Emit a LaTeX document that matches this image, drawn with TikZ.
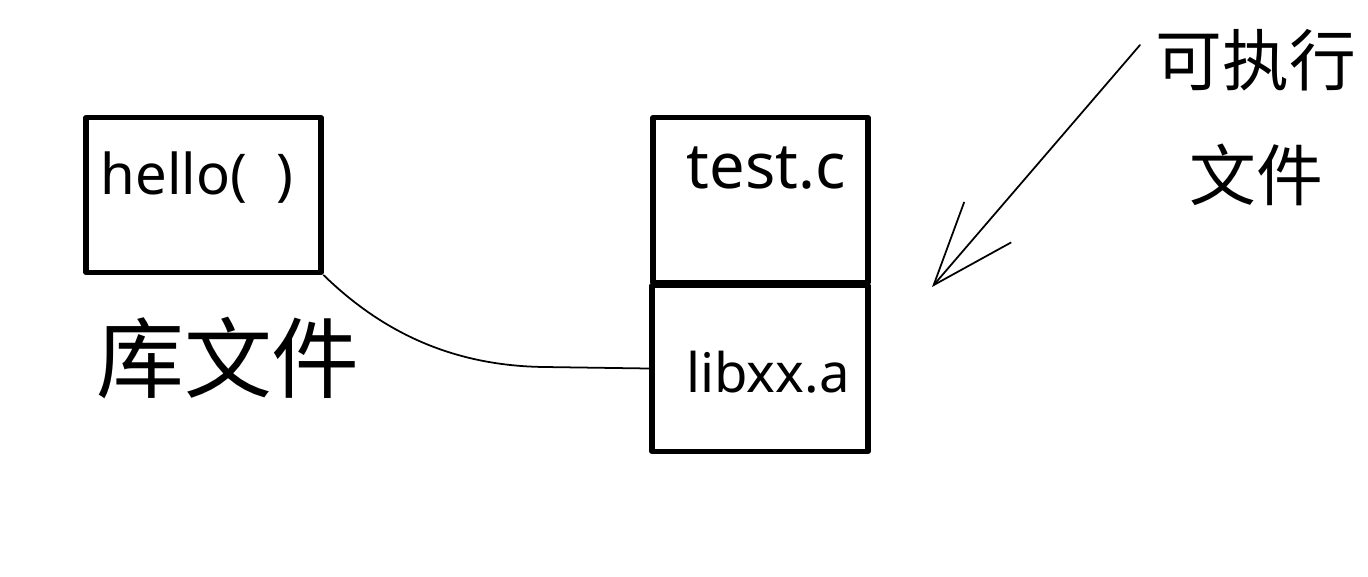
\documentclass[tikz,border=0pt]{standalone}
\usepackage{fontspec}
\setmainfont{Noto Sans}
\newfontfamily\cjk{Noto Sans CJK SC}
\usetikzlibrary{arrows.meta}
\begin{document}
\begin{tikzpicture}[x=0.02cm, y=-0.02cm, line join=round, line cap=round, line width=1pt]
            \tikzset{box/.style={draw, line width=3pt, inner sep=0pt},
                     lbl/.style={inner sep=0pt},
                     barb/.style={-{Straight Barb[length=1.66cm, width=1.24cm]}}}
            \useasboundingbox (0,0) rectangle (1368,576);
            % boxes
            \node[box, minimum width=4.7cm, minimum height=3.1cm] (hellobox) at (203.5,195) {};
            \node[box, minimum width=4.3cm, minimum height=3.3cm] (testbox) at (760.5,200) {};
            \node[box, minimum width=4.32cm, minimum height=3.32cm] (libbox) at (760,368.5) {};
            % labels
            \node[lbl, font=\fontsize{32}{38}\selectfont] (hello) at (197,178) {hello(\ \ )};
            \node[lbl, font=\fontsize{36}{42}\selectfont] (testc) at (766,168) {test.c};
            \node[lbl, font=\fontsize{31}{38}\selectfont] (libxx) at (768,372) {libxx.a};
            \node[lbl, font=\cjk\fontsize{50}{56}\selectfont] (libfile) at (228,358) {库文件};
            \node[lbl, anchor=north west, align=center, font=\cjk\fontsize{38}{66}\selectfont] (exec) at (1155,28) {可执行\\文件};
            \coordinate (tip) at (932,287);
            % connectors
            \draw (hellobox.south east) .. controls (380,330) and (450,366) .. (545,367) -- (libbox.west);
            \draw[barb] ([shift={(-15,17)}]exec.north west) -- (tip);
        \end{tikzpicture}
\end{document}
